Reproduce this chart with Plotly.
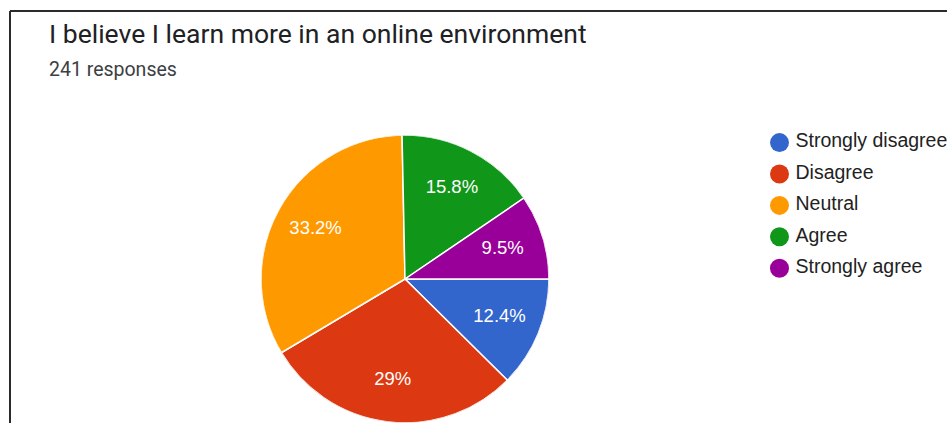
import plotly.graph_objects as go

# Survey answers, share of the 241 responses (percent)
categories = ["Strongly disagree", "Disagree", "Neutral", "Agree", "Strongly agree"]
shares = [12.4, 29, 33.2, 15.8, 9.5]
colors = ["#3366CC", "#DC3912", "#FF9900", "#109618", "#990099"]
legend_rows = list(range(len(categories)))

title_text = "I believe I learn more in an online environment"
subtitle_text = "241 responses"

W, H = 947, 423

# slice geometry: widths and mid-angles in degrees, clockwise from 3 o'clock
total = sum(shares)
widths = [360 * s / total for s in shares]
mids = []
acc = 0.0
for w in widths:
    mids.append(acc + w / 2)
    acc += w
label_text = [f"{s:g}%" for s in shares]
label_radius = 0.71

fig = go.Figure()

# pie slices drawn as full-radius polar bars
fig.add_trace(go.Barpolar(
    r=[1] * len(shares),
    theta=mids,
    width=widths,
    marker=dict(color=colors, line=dict(color="white", width=1.5)),
    customdata=categories,
    hovertemplate="%{customdata}<extra></extra>",
    showlegend=False,
))

# percentage labels inside the slices
fig.add_trace(go.Scatterpolar(
    r=[label_radius] * len(shares),
    theta=mids,
    mode="text",
    text=label_text,
    textposition="middle center",
    textfont=dict(family="Liberation Sans, Arial, sans-serif", size=18.5, color="white"),
    hoverinfo="skip",
    showlegend=False,
))

# legend: round markers, then labels
fig.add_trace(go.Scatter(
    x=[0] * len(categories),
    y=legend_rows,
    mode="markers",
    marker=dict(color=colors, size=19, line=dict(width=0)),
    hoverinfo="skip",
    showlegend=False,
    cliponaxis=False,
))
fig.add_trace(go.Scatter(
    x=[16] * len(categories),
    y=legend_rows,
    mode="text",
    text=categories,
    textposition="middle right",
    textfont=dict(family="Liberation Sans, Arial, sans-serif", size=19.5, color="#222222"),
    hoverinfo="skip",
    showlegend=False,
    cliponaxis=False,
))

cx, cy, rad = 405, 279, 144
row0, step, mx = 142.6, 31.4, 779.5
fig.update_layout(
    width=W,
    height=H,
    margin=dict(l=0, r=0, t=0, b=0),
    paper_bgcolor="white",
    plot_bgcolor="rgba(0,0,0,0)",
    polar=dict(
        domain=dict(x=[(cx - rad) / W, (cx + rad) / W], y=[(H - cy - rad) / H, (H - cy + rad) / H]),
        bgcolor="rgba(0,0,0,0)",
        bargap=0,
        angularaxis=dict(direction="clockwise", rotation=0, visible=False),
        radialaxis=dict(range=[0, 1], visible=False),
    ),
    xaxis=dict(range=[-mx, W - mx], visible=False, fixedrange=True, domain=[0, 1]),
    yaxis=dict(range=[(H - row0) / step, -row0 / step], visible=False, fixedrange=True, domain=[0, 1]),
    annotations=[
        dict(text=title_text, x=47 / W, y=1 - 33.5 / H, xref="paper", yref="paper",
             xanchor="left", yanchor="middle", showarrow=False,
             font=dict(family="Roboto, sans-serif", size=26.5, color="#202124")),
        dict(text=subtitle_text, x=47 / W, y=1 - 69 / H, xref="paper", yref="paper",
             xanchor="left", yanchor="middle", showarrow=False,
             font=dict(family="Roboto, sans-serif", size=19.5, color="#3c4043")),
    ],
    shapes=[
        dict(type="line", xref="paper", yref="paper", x0=10 / W, x1=1.01,
             y0=1 - 11 / H, y1=1 - 11 / H, line=dict(color="#2b2b2b", width=2)),
        dict(type="line", xref="paper", yref="paper", x0=10 / W, x1=10 / W,
             y0=1 - 11 / H, y1=-0.01, line=dict(color="#2b2b2b", width=2)),
    ],
)

fig.write_html("out.html")
